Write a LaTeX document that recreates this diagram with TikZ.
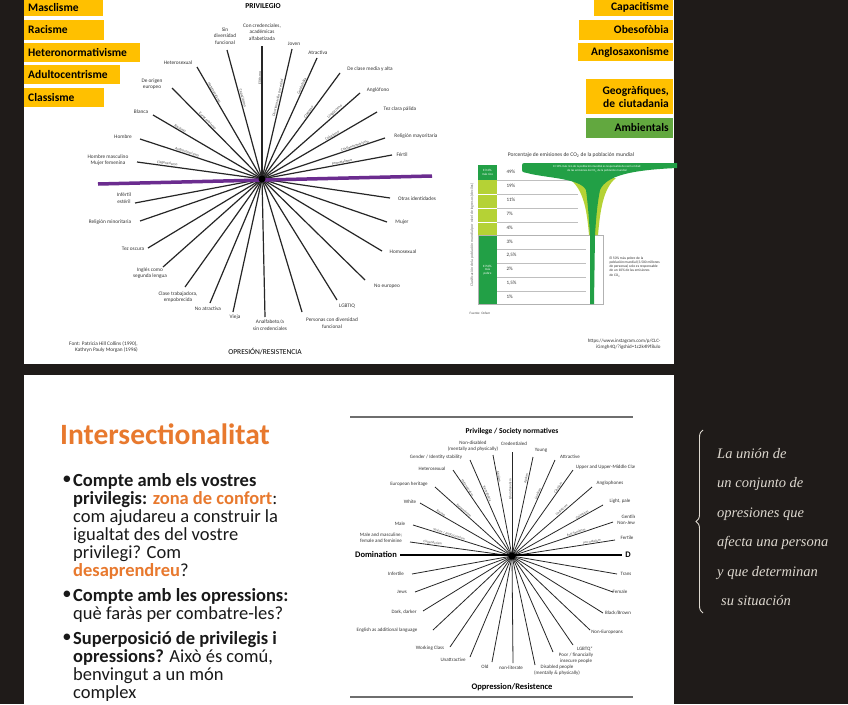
\documentclass[tikz,border=0pt]{standalone}
\usepackage{fontspec}
\setmainfont{Carlito}
\newfontfamily\handfont{Liberation Serif}
\usepackage{tikz}
\usetikzlibrary{positioning, calc, decorations.pathreplacing}

\definecolor{bgdark}{HTML}{1F1B19}
\definecolor{boxor}{HTML}{FFC000}
\definecolor{boxgr}{HTML}{62A83F}
\definecolor{wheelpurple}{HTML}{6B2C8F}
\definecolor{titleor}{HTML}{E8792E}
\definecolor{co2dark}{HTML}{22A046}
\definecolor{co2light}{HTML}{B5D235}
\definecolor{framegray}{HTML}{6E6E6E}
\definecolor{chalk}{HTML}{DDD8CF}

\newcommand{\fsz}[1]{\fontsize{#1}{\dimexpr#1pt*6/5\relax}\selectfont}

\begin{document}
\begin{tikzpicture}[
  x=1pt, y=-1pt,
  obox/.style={fill=boxor, inner xsep=4pt, inner ysep=0pt, font=\bfseries\fsz{11.5}, text=black},
  lbl/.style={font=\fsz{5.3}, align=center, inner sep=0pt, text=black!80},
  blbl/.style={font=\fsz{5}, align=center, inner sep=0pt, text=black!80},
  ray/.style={line width=1.2pt, black!85},
  bray/.style={line width=0.8pt, black!85},
  rlab/.style={font=\fsz{3.8}, inner sep=0.3pt, text=black!70},
  brlab/.style={font=\fsz{3.4}, inner sep=0.3pt, text=black!70},
  body/.style={font=\fontsize{18.5}{18}\selectfont, align=left, inner sep=0pt, text=black!90},
  hand/.style={font=\handfont\itshape\fontsize{14.5}{29.5}\selectfont, text=chalk, align=left, inner sep=0pt},
]
\useasboundingbox (0,0) rectangle (848,704);
\fill[bgdark] (0,0) rectangle (848,704);
\fill[white] (24,0) rectangle (674,364);
\fill[white] (24,375) rectangle (674,704);

% oppression boxes
\node[obox, anchor=north west, minimum height=18, text width=71, align=left] (masc) at (24,-2) {Masclisme};
\node[obox, below=3pt of masc.south west, anchor=north west, minimum height=20, text width=72, align=left] (rac) {Racisme};
\node[obox, below=3pt of rac.south west, anchor=north west, minimum height=19, text width=108, align=left] (het) {Heteronormativisme};
\node[obox, below=3pt of het.south west, anchor=north west, minimum height=19, text width=88, align=left] (adu) {Adultocentrisme};
\node[obox, below=3pt of adu.south west, anchor=north west, minimum height=19, text width=72, align=left] (cla) {Classisme};

\node[obox, anchor=north east, minimum height=18, text width=71, align=right] (cap) at (673,-2) {Capacitisme};
\node[obox, below=3pt of cap.south east, anchor=north east, minimum height=20, text width=86, align=right] (obe) {Obesofòbia};
\node[obox, below=3pt of obe.south east, anchor=north east, minimum height=18, text width=87, align=right] (ang) {Anglosaxonisme};
\node[obox, below=18pt of ang.south east, anchor=north east, minimum height=35, text width=79, align=right] (geo) {Geogràfiques,\\de ciutadania};
\node[obox, fill=boxgr, below=3pt of geo.south east, anchor=north east, minimum height=20, text width=79, align=right] (amb) {Ambientals};

% wheel of privilege
\coordinate (c) at (262,179);
\node[font=\bfseries\fsz{7.5}] (priv) at (263,6) {PRIVILEGIO};
\node[font=\fsz{7.5}] (opr) at (265,352) {OPRESIÓN/RESISTENCIA};
\foreach \ex/\ey/\lx/\ly/\txt/\rt [count=\i] in {
  137/162/108/160/{Hombre masculino\\Mujer femenina}/Cisgenerismo,
  140/139/123/137/Hombre/Androcentrismo,
  153/115/141/112/Blanca/Racismo,
  172/88/152/84/{De origen\\europeo}/Eurocentrismo,
  197/67/178/63/Heterosexual/Heterosexismo,
  227/50/225/36/{Sin\\diversidad\\funcional}/Capacitismo,
  262/46/262/32/{Con credenciales,\\académicas\\alfabetizada}/Elitismo,
  292/49/294/44/Joven/{Discriminación por edad},
  317/58/318/53/Atractiva/Gordofobia,
  340/73/370/69/{De clase media y alta}/Clasismo,
  360/93/378/90/Anglófono/Lingüicismo,
  377/112/400/109/{Tez clara pálida}/Colorismo,
  385/138/416/136/{Religión mayoritaria}/Cristianocentrismo,
  392/155/402/155/Fértil/Pronatalismo} {
  \coordinate (pe\i) at (\ex,\ey);
  \node[lbl] (pl\i) at (\lx,\ly) {\txt};
  \draw[ray] (c) -- (pe\i) node[rlab, pos={mod(\i,2)==0 ? 0.62 : 0.76}, sloped, above] {\rt};
}
\foreach \ex/\ey/\lx/\ly/\txt [count=\i] in {
  390/198/417/199/{Otras identidades},
  387/222/402/222/Mujer,
  382/251/403/252/Homosexual,
  365/280/387/286/{No europeo},
  337/300/347/306/LGBTIQ,
  302/312/332/323/{Personas con diversidad\\funcional},
  265/317/270/325/{Analfabeto/a\\sin credenciales},
  233/312/235/317/Vieja,
  210/303/208/309/{No atractiva},
  185/287/178/297/{Clase trabajadora,\\empobrecida},
  163/267/150/273/{Inglés como\\segunda lengua},
  148/248/133/249/{Tez oscura},
  140/221/110/222/{Religión minoritaria},
  135/203/124/198/{Infértil\\estéril}} {
  \coordinate (oe\i) at (\ex,\ey);
  \node[lbl] (ol\i) at (\lx,\ly) {\txt};
  \draw[ray] (c) -- (oe\i);
}
\coordinate (pleft) at (98,184);
\coordinate (pright) at (432,176);
\draw[wheelpurple, line width=3.5pt] (pleft) -- (pright);
\fill[black] (c) circle (3.5);
\node[lbl, align=right, anchor=east] (src) at (138,347) {Font: Patricia Hill Collins (1990),\\Kathryn Pauly Morgan (1996)};

% CO2 chart
\node[font=\fsz{5.5}, text=black!80] (co2t) at (571,155) {Porcentaje de emisiones de CO\textsubscript{2} de la población mundial};
\fill[co2dark] (478,165) rectangle (497,180);
\fill[co2light] (478,180) rectangle (497,235);
\fill[co2dark] (478,235) rectangle (497,304);
\foreach \y in {194,208,222} \draw[white, line width=0.6pt] (478,\y) -- (497,\y);
\foreach \y in {180,194,208,222} \draw[black!25, line width=0.6pt] (497,\y) -- (578,\y);
\foreach \y in {249,263,277,291} \draw[black!25, line width=0.6pt] (497,\y) -- (586,\y);
\draw[black!30, line width=0.6pt] (478,235) rectangle (603,304);
\foreach \v [count=\k] in {49\%,19\%,11\%,7\%,4\%,3\%,{2,5\%},2\%,{1,5\%},1\%}
  \node[font=\fsz{5}, anchor=west, text=black!80] (pct\k) at (503,{158.1+13.9*\k}) {\v};
\node[font=\fsz{3.2}, text=white, align=center] (top10) at (487.5,172) {El 10\%\\más rico};
\node[font=\fsz{3.2}, text=white, align=center] (low50) at (487.5,270) {El 50\%\\más\\pobre};
\node[rotate=90, font=\fsz{3.8}, text=black!60] (axl) at (472,235) {Clasificación de la población mundial por nivel de ingresos (deciles)};
\fill[co2light] (568,178) .. controls (584,188) and (587,212) .. (589,235) -- (598,235) .. controls (600,212) and (603,188) .. (616,178) -- cycle;
\fill[co2dark] (522,168) .. controls (522,163) .. (527,163) -- (677,163) -- (677,168)
  .. controls (630,170) and (606,176) .. (600,190) .. controls (597,205) and (596,220) .. (595,235)
  -- (594,304) -- (590,304) -- (590,235)
  .. controls (589,220) and (588,205) .. (586,190) .. controls (580,178) and (545,178) .. (527,173)
  .. controls (522,172) .. (522,168) -- cycle;
\node[font=\fsz{3}, text=white, align=center] (bandt) at (597,169) {El 10\% más rico de la población mundial es responsable de casi la mitad\\de las emisiones de CO\textsubscript{2} de la población mundial};
\node[font=\fsz{3.6}, align=left, anchor=north west, text=black!80] (poort) at (606,253) {El 50\% más pobre de la\\población mundial (3.500 millones\\de personas) solo es responsable\\de un 10\% de las emisiones\\de CO\textsubscript{2}};
\node[font=\fsz{3.4}, text=black!70] (oxf) at (480,313) {Fuente: Oxfam};
\node[font=\fsz{5}, align=right, anchor=east, text=black!80] (url) at (664,344) {https://www.instagram.com/p/CLC-\\iGmgh4Q/?igshid=1c2k4l9f8ulo};

% lower slide
\node[font=\bfseries\fontsize{29.5}{30}\selectfont, text=titleor, anchor=west, inner sep=0pt] (title) at (60,434) {Intersectionalitat};
\node[body] (d1) at (67,480) {•};
\node[body, anchor=north west] (b1) at (73,473.5) {\textbf{Compte amb els vostres}\\\textbf{privilegis: \textcolor{titleor}{zona de confort}}:\\com ajudareu a construir la\\igualtat des del vostre\\privilegi? Com\\\textbf{\textcolor{titleor}{desaprendreu}}?};
\node[body] (d2) at (67,595) {•};
\node[body, anchor=north west] (b2) at (73,588.5) {\textbf{Compte amb les opressions:}\\què faràs per combatre-les?};
\node[body] (d3) at (67,638) {•};
\node[body, anchor=north west] (b3) at (73,631.5) {\textbf{Superposició de privilegis i}\\\textbf{opressions?} Això és comú,\\benvingut a un món\\complex};

% wheel in English
\begin{scope}
\clip (348,405) rectangle (634,704);
\coordinate (ftl) at (350,417);
\coordinate (ftr) at (633,417);
\coordinate (fbl) at (350,697);
\coordinate (fbr) at (633,697);
\draw[framegray, line width=2.5pt] (ftl) -- (ftr);
\draw[framegray, line width=2.5pt] (fbl) -- (fbr);
\coordinate (cb) at (512,556);
\node[font=\bfseries\fsz{7.5}] (bpriv) at (512,431) {Privilege / Society normatives};
\node[font=\bfseries\fsz{8.5}] (bdom) at (376,555) {Domination};
\node[font=\bfseries\fsz{8.5}] (bdomr) at (628,555) {D};
\node[font=\bfseries\fsz{8.5}] (bopp) at (512,687) {Oppression/Resistence};
\foreach \ex/\ey/\lx/\ly/\txt/\rt [count=\i] in {
  410/542/381/538/{Male and masculine;\\female and feminine}/Cisgenderism,
  413/525/400/524/Male/{Sexism / Androcentrism},
  420/503/410/502/White/Racism,
  435/487/409/484/{European heritage}/Eurocentrism,
  453/470/432/469/Heterosexual/Heterosexism,
  470/460/436/457/{Gender / Identity stability}/Transphobia,
  493/455/473/446/{Non-disabled\\(mentally and physically)}/Ableism,
  512/452/514/444/Credentialed/Educationalism,
  533/457/541/450/Young/Ageism,
  555/460/570/457/Attractive/Lookism,
  573/470/607/467/{Upper and Upper-Middle Class}/Classism,
  592/487/610/483/Anglophones/Linguicism,
  603/505/620/501/{Light, pale}/Colourism,
  613/522/629/520/{Gentile\\Non-Jewish}/{Anti-Semitism},
  615/540/627/538/Fertile/{Pro-natalism}} {
  \coordinate (be\i) at (\ex,\ey);
  \node[blbl] (bl\i) at (\lx,\ly) {\txt};
  \draw[bray] (cb) -- (be\i) node[brlab, pos={mod(\i,2)==0 ? 0.64 : 0.78}, sloped, above] {\rt};
}
\foreach \ex/\ey/\lx/\ly/\txt [count=\i] in {
  412/574/396/574/Infertile,
  415/592/402/592/Jews,
  423/611/404/612/{Dark, darker},
  433/630/387/630/{English as additional language},
  450/647/430/648/{Working Class},
  470/657/453/660/Unattractive,
  492/662/485/667/Old,
  513/663/511/668/non-literate,
  535/665/557/670/{Disabled people\\(mentally \& physically)},
  553/652/576/658/{Poor / financially\\insecure people},
  573/645/585/649/LGBTQ*,
  590/630/607/632/Non-Europeans,
  603/613/618/613/{Black/Brown},
  613/592/620/592/Female,
  617/574/626/574/Trans} {
  \coordinate (ue\i) at (\ex,\ey);
  \node[blbl] (ul\i) at (\lx,\ly) {\txt};
  \draw[bray] (cb) -- (ue\i);
}
\draw[line width=2pt] (bdom.east) -- (bdomr.west);
\fill[black] (cb) circle (3.5);
\end{scope}

% handwritten note
\coordinate (brb) at (703,613);
\coordinate (brt) at (703,430);
\draw[chalk, line width=0.9pt, decorate, decoration={brace, amplitude=7pt}] (brb) -- (brt);
\node[hand, anchor=north west] (note) at (717,448) {La unión de\\un conjunto de\\opresiones que\\afecta una persona\\y que determinan\\\hspace{4pt}su situación};
\end{tikzpicture}
\end{document}
